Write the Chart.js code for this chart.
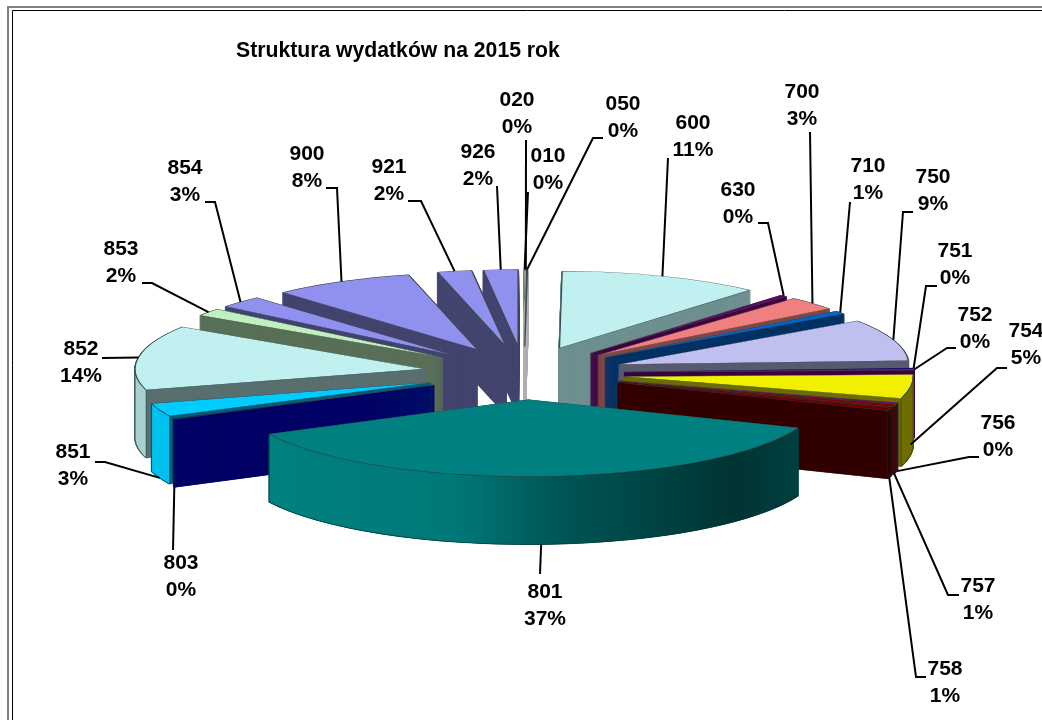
<!DOCTYPE html>
<html><head><meta charset="utf-8">
<style>html,body{margin:0;padding:0;background:#fff}canvas{display:block}</style>
<script src="https://cdn.jsdelivr.net/npm/chart.js@4"></script>
</head><body><canvas id="c" width="1042" height="720"></canvas>
<script>
const titleText = 'Struktura wydatków na 2015 rok';
const categories = ['010','020','050','600','630','700','710','750','751','752','754','756','757','758','801','803','851','852','853','854','900','921','926'];
const shares = [0.05,0.05,0.05,11.25,0.4,2.9,0.7,8.8,0.2,0.2,5.0,0.2,0.6,0.6,36.6,0.2,2.8,13.6,1.6,2.5,7.9,1.9,1.9];
const topColors = ['#ffffff','#ffffff','#ffffff','#c0f0f0','#660066','#f08080','#0066cc','#c0c0f0','#000080','#800080','#f0f000','#800080','#800000','#660000','#008080','#004050','#00ccff','#c0f0f0','#c0f0c0','#9090ee','#9090ee','#9090ee','#9090ee'];
const wallColors = ['#b0b0b0','#b0b0b0','#b0b0b0','#6f9090','#400040','#804848','#003366','#5a5a70','#000050','#400040','#6e6e00','#400040','#4a0000','#330000','#004c4c','#000066','#00607a','#5a7070','#5a7058','#444470','#444470','#444470','#444470'];
const rimColors = ['#c0c0c0','#c0c0c0','#c0c0c0','#a8d0d0','#400040','#c07070','#003366','#a8a8d0','#000050','#400040','#6e6e00','#400040','#4a0000','#330000',null,'#000066','#00c0f0','#a8d0d0','#a8d0a8','#7c7cc8','#7c7cc8','#7c7cc8','#7c7cc8'];
// leader start [x,y], optional elbow [x,y], text centre [x,y of first line], share of wall depth at the anchor
const leaderStarts = [[528,192],[526,140],[603,138],[668,158],[758,223],[810,132],[850,202],[913,212],[937,286],[956,348],[1007,368],[979,457],[959,595],[926,677],[540,574],[173,550],[95,462],[102,358],[142,283],[205,202],[326,188],[408,201],[497,186]];
const leaderElbows = [null,null,[593,138],null,[768,223],null,null,[903,212],[926,286],[947,348],[997,368],[969,457],[948,595],[916,677],null,null,[105,462],null,[152,283],[215,202],[337,188],[421,201],null];
const labelCentres = [[548,156],[517,100],[623,104],[693,123],[738,190],[802,92],[868,166],[933,177],[955,251],[975,315],[1026,331],[998,423],[978,586],[945,669],[545,592],[181,563],[73,452],[81,349],[121,249],[185,168],[307,154],[389,167],[478,152]];
const anchorDepths = [0,0,0,0,0,0,0,0,0,0,0.85,1,1,1,1,1,1,0,0,0,0,0,0];

const pieX = 524, pieY = 373, radius = 290, squash = 0.2655, explode = 100, depth = 68;
const total = shares.reduce((a,b)=>a+b,0);

function place(ctx, arc, dy){
  const mid = (arc.startAngle + arc.endAngle)/2;
  ctx.translate(pieX, pieY + dy);
  ctx.scale(1, squash);
  ctx.translate(Math.cos(mid)*explode - arc.x, Math.sin(mid)*explode - arc.y);
}
function project(arc, a, dy){
  const mid = (arc.startAngle + arc.endAngle)/2;
  return [pieX + Math.cos(mid)*explode + Math.cos(a)*arc.outerRadius,
          pieY + squash*(Math.sin(mid)*explode + Math.sin(a)*arc.outerRadius) + dy];
}
const pie3d = {
  id:'pie3d',
  beforeDatasetsDraw(chart){
    const ctx = chart.ctx, arcs = chart.getDatasetMeta(0).data;
    const order = arcs.map((a,i)=>i).sort((i,j)=>
      Math.sin((arcs[i].startAngle+arcs[i].endAngle)/2) - Math.sin((arcs[j].startAngle+arcs[j].endAngle)/2));
    order.forEach(i=>{
      const arc = arcs[i];
      const wall = Object.create(arc);
      wall.options = Object.assign({}, arc.options, {backgroundColor:wallColors[i], borderColor:wallColors[i], borderWidth:2});
      for(let d=depth; d>0; d-=0.5){ ctx.save(); place(ctx,arc,d); wall.draw(ctx); ctx.restore(); }
      const lo = Math.max(arc.startAngle,0), hi = Math.min(arc.endAngle,Math.PI);
      if(hi>lo){
        const steps = 40; ctx.beginPath();
        for(let s=0;s<=steps;s++){ const p=project(arc,lo+(hi-lo)*s/steps,0); ctx.lineTo(p[0],p[1]); }
        for(let s=steps;s>=0;s--){ const p=project(arc,lo+(hi-lo)*s/steps,depth); ctx.lineTo(p[0],p[1]); }
        ctx.closePath();
        if(rimColors[i]) ctx.fillStyle = rimColors[i];
        else {
          const a=project(arc,hi,0)[0], b=project(arc,lo,0)[0];
          const g=ctx.createLinearGradient(a,0,b,0);
          g.addColorStop(0,'#008080');g.addColorStop(0.35,'#007878');g.addColorStop(0.55,'#005555');g.addColorStop(0.88,'#003333');g.addColorStop(1,'#004040');
          ctx.fillStyle=g;
        }
        ctx.fill(); ctx.strokeStyle='rgba(0,50,50,0.55)'; ctx.lineWidth=1; ctx.stroke();
      }
      ctx.save(); place(ctx,arc,0); arc.draw(ctx); ctx.restore();
    });
    return false;
  },
  afterDraw(chart){
    const ctx = chart.ctx, arcs = chart.getDatasetMeta(0).data;
    ctx.save();
    ctx.strokeStyle='#808080'; ctx.lineWidth=2;
    ctx.beginPath(); ctx.moveTo(8,720); ctx.lineTo(8,7); ctx.lineTo(1042,7); ctx.stroke();
    ctx.strokeStyle='#000'; ctx.lineWidth=1;
    ctx.beginPath(); ctx.moveTo(12.5,720); ctx.lineTo(12.5,10.5); ctx.lineTo(1042,10.5); ctx.stroke();
    ctx.lineWidth=2; ctx.lineJoin='miter'; ctx.strokeStyle='#000';
    arcs.forEach((arc,i)=>{
      const end = project(arc,(arc.startAngle+arc.endAngle)/2,depth*anchorDepths[i]);
      ctx.beginPath(); ctx.moveTo(leaderStarts[i][0],leaderStarts[i][1]);
      if(leaderElbows[i]) ctx.lineTo(leaderElbows[i][0],leaderElbows[i][1]);
      ctx.lineTo(end[0],end[1]); ctx.stroke();
    });
    ctx.fillStyle='#000'; ctx.font='bold 21px "Liberation Sans"'; ctx.textAlign='center'; ctx.textBaseline='middle';
    categories.forEach((c,i)=>{
      ctx.fillText(c,labelCentres[i][0],labelCentres[i][1]);
      ctx.fillText(Math.round(shares[i]/total*100)+'%',labelCentres[i][0],labelCentres[i][1]+27);
    });
    ctx.restore();
  }
};
new Chart(document.getElementById('c'),{
  type:'pie',
  data:{labels:categories,datasets:[{data:shares,backgroundColor:topColors,borderColor:'#3a4a4a',borderWidth:1.2}]},
  plugins:[pie3d],
  options:{
    responsive:false,animation:false,radius:radius,
    layout:{padding:{left:236}},
    plugins:{
      legend:{display:false},tooltip:{enabled:false},
      title:{display:true,text:titleText,align:'start',color:'#000',padding:{top:38.5,bottom:0},font:{family:'"Liberation Sans"',size:21.2,weight:'bold'}}
    }
  }
});
</script></body></html>
